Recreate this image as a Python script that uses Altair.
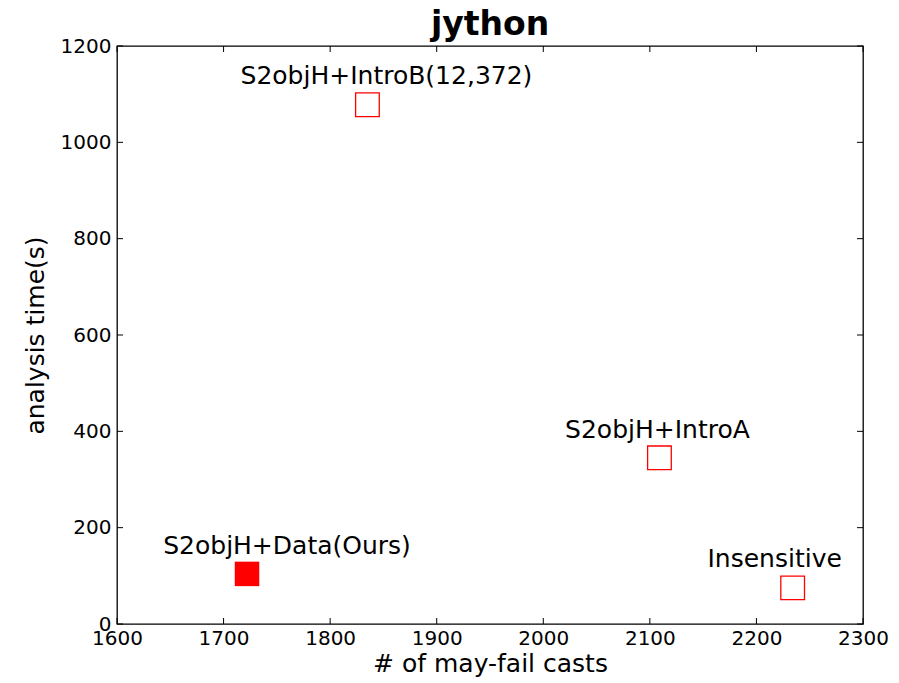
import altair as alt
import pandas as pd

# data
methods = ["S2objH+Data(Ours)", "S2objH+IntroB(12,372)", "S2objH+IntroA", "Insensitive"]
casts = [1722, 1835, 2109, 2234]
times = [104, 1078, 345, 75]
filled = [True, False, False, False]

x_ticks = [1600, 1700, 1800, 1900, 2000, 2100, 2200, 2300]
y_ticks = [0, 200, 400, 600, 800, 1000, 1200]

df = pd.DataFrame({"method": methods, "casts": casts, "time": times, "filled": filled})
xt = pd.DataFrame({"v": x_ticks})
yt = pd.DataFrame({"v": y_ticks})

W, H = 746, 578
FONT = "DejaVu Sans"
xs = alt.Scale(domain=[1600, 2300], nice=False, zero=False)
ys = alt.Scale(domain=[0, 1200], nice=False, zero=False)

base = alt.Chart(df)

open_pts = base.transform_filter("!datum.filled").mark_point(
    shape="square", size=560, filled=False, color="red", strokeWidth=1.3, opacity=1
).encode(
    x=alt.X("casts:Q", scale=xs, title="# of may-fail casts",
            axis=alt.Axis(values=x_ticks, format="d", ticks=False, grid=False,
                          labelFlush=False, labelOverlap=False,
                          labelFontSize=20, labelFont=FONT, labelColor="black", labelPadding=4,
                          titleFontSize=25, titleFont=FONT, titleFontWeight="normal",
                          titleColor="black", titlePadding=3, domain=False)),
    y=alt.Y("time:Q", scale=ys, title="analysis time(s)",
            axis=alt.Axis(values=y_ticks, format="d", ticks=False, grid=False,
                          labelFlush=False, labelOverlap=False,
                          labelFontSize=20, labelFont=FONT, labelColor="black", labelPadding=6,
                          titleFontSize=25, titleFont=FONT, titleFontWeight="normal",
                          titleColor="black", titlePadding=12, domain=False)),
)

filled_pts = base.transform_filter("datum.filled").mark_point(
    shape="square", size=600, filled=True, color="red", opacity=1
).encode(x=alt.X("casts:Q", scale=xs), y=alt.Y("time:Q", scale=ys))

offsets = {
    "S2objH+Data(Ours)": (40, -20),
    "S2objH+IntroB(12,372)": (19, -21),
    "S2objH+IntroA": (-2, -20),
    "Insensitive": (-18, -21),
}
labels = []
for m in methods:
    dx, dy = offsets[m]
    labels.append(
        base.transform_filter(alt.datum.method == m).mark_text(
            font=FONT, fontSize=25, color="black", align="center",
            baseline="alphabetic", dx=dx, dy=dy
        ).encode(x=alt.X("casts:Q", scale=xs), y=alt.Y("time:Q", scale=ys), text="method:N")
    )

tick_len = 6
tick_style = dict(color="black", strokeWidth=1)
tb = alt.Chart(xt).mark_rule(**tick_style).encode(
    x=alt.X("v:Q", scale=xs), y=alt.value(H), y2=alt.value(H - tick_len))
tt = alt.Chart(xt).mark_rule(**tick_style).encode(
    x=alt.X("v:Q", scale=xs), y=alt.value(0), y2=alt.value(tick_len))
tl = alt.Chart(yt).mark_rule(**tick_style).encode(
    y=alt.Y("v:Q", scale=ys), x=alt.value(0), x2=alt.value(tick_len))
tr = alt.Chart(yt).mark_rule(**tick_style).encode(
    y=alt.Y("v:Q", scale=ys), x=alt.value(W), x2=alt.value(W - tick_len))

chart = alt.layer(open_pts, filled_pts, *labels, tb, tt, tl, tr).properties(
    width=W, height=H,
    title=alt.TitleParams("jython", font=FONT, fontSize=33, fontWeight="bold",
                          color="black", anchor="middle", frame="group",
                          baseline="alphabetic", offset=8, dy=40),
    autosize=alt.AutoSizeParams(type="none"),
    padding={"left": 117, "top": 46, "right": 36, "bottom": 59},
    background="white",
).configure_view(stroke="black", strokeWidth=1.3)

chart.save("out.html", embed_options={"renderer": "svg", "actions": False})
